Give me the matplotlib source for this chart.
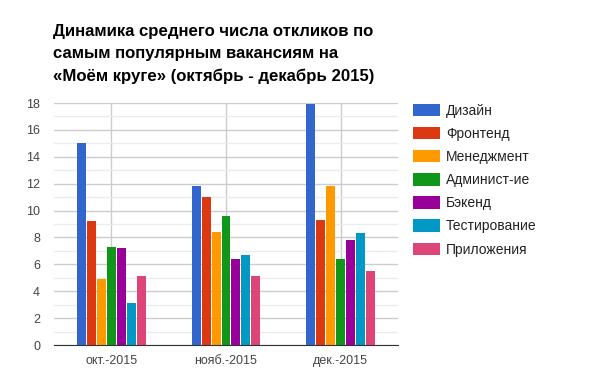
"""Average number of responses for popular vacancies on Moikrug, Oct-Dec 2015."""

import matplotlib

matplotlib.use("Agg")
import matplotlib.pyplot as plt
import numpy as np
from matplotlib.ticker import MultipleLocator

plt.rcParams["font.family"] = ["Liberation Sans", "DejaVu Sans"]

TITLE = (
    "Динамика среднего числа откликов по\n"
    "самым популярным вакансиям на\n"
    "«Моём круге» (октябрь - декабрь 2015)"
)
MONTHS = ["окт.-2015", "нояб.-2015", "дек.-2015"]
SERIES_LABELS = [
    "Дизайн",
    "Фронтенд",
    "Менеджмент",
    "Админист-ие",
    "Бэкенд",
    "Тестирование",
    "Приложения",
]
DESIGN = [15.0, 11.8, 17.9]
FRONTEND = [9.2, 11.0, 9.3]
MANAGEMENT = [4.9, 8.4, 11.8]
ADMIN = [7.3, 9.6, 6.4]
BACKEND = [7.2, 6.4, 7.8]
TESTING = [3.1, 6.7, 8.3]
APPS = [5.1, 5.1, 5.5]
VALUES = [DESIGN, FRONTEND, MANAGEMENT, ADMIN, BACKEND, TESTING, APPS]

COLORS = ["#3366cc", "#dc3912", "#ff9900", "#109618", "#990099", "#0099c6", "#dd4477"]

fig = plt.figure(figsize=(5.99, 3.86), dpi=100)
ax = fig.add_axes([54 / 599, 41 / 386, 344 / 599, 242 / 386])

x = np.arange(len(MONTHS))
pitch = 10 / 114.7
width = 9 / 114.7
offsets = (np.arange(len(SERIES_LABELS)) - (len(SERIES_LABELS) - 1) / 2) * pitch
for i, (label, vals) in enumerate(zip(SERIES_LABELS, VALUES)):
    ax.bar(x + offsets[i], vals, width=width, color=COLORS[i], label=label,
           linewidth=0, zorder=3)

ax.set_xlim(-0.5, len(MONTHS) - 0.5)
ax.set_ylim(0, 18)
ax.yaxis.set_major_locator(MultipleLocator(2))
ax.yaxis.set_minor_locator(MultipleLocator(1))
ax.set_xticks(x)
ax.set_xticklabels(MONTHS)
ax.grid(axis="y", which="major", color="#cccccc", linewidth=1, zorder=0)
ax.grid(axis="y", which="minor", color="#ebebeb", linewidth=1, zorder=0)
ax.grid(axis="x", which="major", color="#cccccc", linewidth=1, zorder=0)
ax.set_axisbelow(True)
for side in ("top", "right", "left"):
    ax.spines[side].set_visible(False)
ax.spines["bottom"].set_color("#333333")
ax.spines["bottom"].set_zorder(4)
ax.tick_params(axis="both", which="both", length=0, labelsize=9, labelcolor="#444444")
ax.tick_params(axis="y", pad=10)
ax.tick_params(axis="x", pad=7)

fig.text(53 / 599, 1 - 24 / 386, TITLE, ha="left", va="top", fontsize=12.1,
         fontweight="bold", color="#000000", linespacing=1.59)

fig.legend(loc="upper left", bbox_to_anchor=(407 / 599, 1 - 98 / 386),
           frameon=False, fontsize=10, handlelength=2.0, handleheight=1.0,
           labelspacing=0.66, handletextpad=0.4, labelcolor="#222222",
           borderaxespad=0)

fig.savefig("out.png", dpi=100)
